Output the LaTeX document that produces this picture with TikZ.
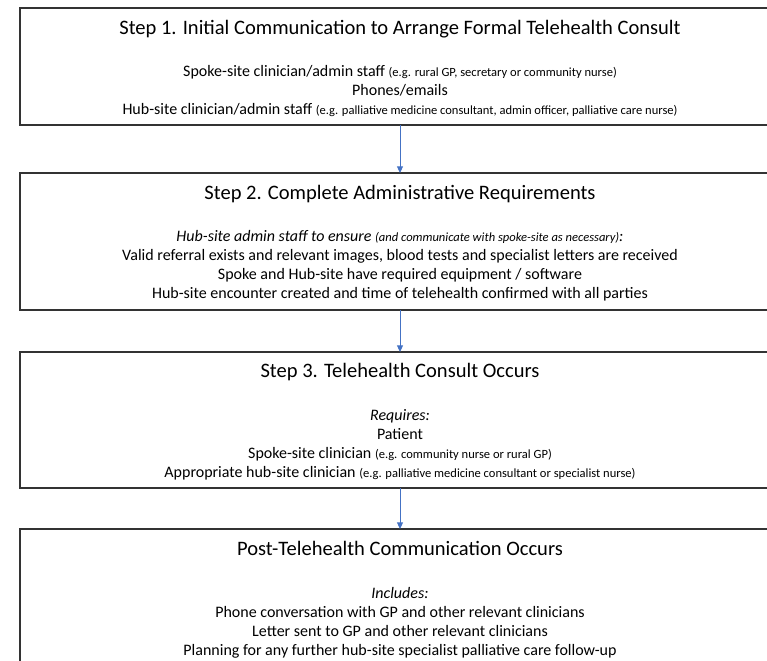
\documentclass[tikz,border=0pt]{standalone}
\usepackage{fontspec}
\setmainfont{Carlito}
\usetikzlibrary{arrows.meta}
\definecolor{arrowblue}{HTML}{4472C4}
\newcommand\egnote[1]{{\fontsize{9.4}{11}\selectfont #1}}
\begin{document}
\begin{tikzpicture}[x=0.75pt,y=-0.75pt,
  stepbox/.style={draw=black!80, line width=0.8pt, rectangle, inner sep=0pt, outer sep=0pt, minimum width=570pt},
  titletext/.style={font=\fontsize{15.4}{18}\selectfont, anchor=base, inner sep=0pt},
  bodytext/.style={font=\fontsize{12}{14}\selectfont, anchor=base, inner sep=0pt},
  flow/.style={draw=arrowblue, line width=0.75pt, -{Triangle[length=5pt,width=4.5pt]}}]
\useasboundingbox (0,0) rectangle (767,660);
% boxes
\node[stepbox, minimum height=87.75pt] (b1) at (400,66.5) {};
\node[stepbox, minimum height=102.75pt] (b2) at (400,241.5) {};
\node[stepbox, minimum height=102pt] (b3) at (400,420) {};
\node[stepbox, minimum height=102pt] (b4) at (400,597) {};
% box 1
\node[titletext] (t1) at (400,34.5) {Step 1. Initial Communication to Arrange Formal Telehealth Consult};
\node[bodytext] (b1l1) at (400,76.5) {Spoke-site clinician/admin staff \egnote{(e.g. rural GP, secretary or community nurse)}};
\node[bodytext] (b1l2) at (400,95.5) {Phones/emails};
\node[bodytext] (b1l3) at (400,114.5) {Hub-site clinician/admin staff \egnote{(e.g. palliative medicine consultant, admin officer, palliative care nurse)}};
% box 2
\node[titletext] (t2) at (400,199.5) {Step 2. Complete Administrative Requirements};
\node[bodytext] (b2l1) at (400,241.5) {\itshape Hub-site admin staff to ensure \egnote{(and communicate with spoke-site as necessary)}:};
\node[bodytext] (b2l2) at (400,260.5) {Valid referral exists and relevant images, blood tests and specialist letters are received};
\node[bodytext] (b2l3) at (400,279.5) {Spoke and Hub-site have required equipment / software};
\node[bodytext] (b2l4) at (400,298.5) {Hub-site encounter created and time of telehealth confirmed with all parties};
% box 3
\node[titletext] (t3) at (400,377.5) {Step 3. Telehealth Consult Occurs};
\node[bodytext] (b3l1) at (400,420.5) {\itshape Requires:};
\node[bodytext] (b3l2) at (400,439.5) {Patient};
\node[bodytext] (b3l3) at (400,458.5) {Spoke-site clinician \egnote{(e.g. community nurse or rural GP)}};
\node[bodytext] (b3l4) at (400,477.5) {Appropriate hub-site clinician \egnote{(e.g. palliative medicine consultant or specialist nurse)}};
% box 4
\node[titletext] (t4) at (400,555.5) {Post-Telehealth Communication Occurs};
\node[bodytext] (b4l1) at (400,598.5) {\itshape Includes:};
\node[bodytext] (b4l2) at (400,617.5) {Phone conversation with GP and other relevant clinicians};
\node[bodytext] (b4l3) at (400,636.5) {Letter sent to GP and other relevant clinicians};
\node[bodytext] (b4l4) at (400,655.5) {Planning for any further hub-site specialist palliative care follow-up};
% arrows
\draw[flow] (b1.south) -- (b2.north);
\draw[flow] (b2.south) -- (b3.north);
\draw[flow] (b3.south) -- (b4.north);
\end{tikzpicture}
\end{document}
